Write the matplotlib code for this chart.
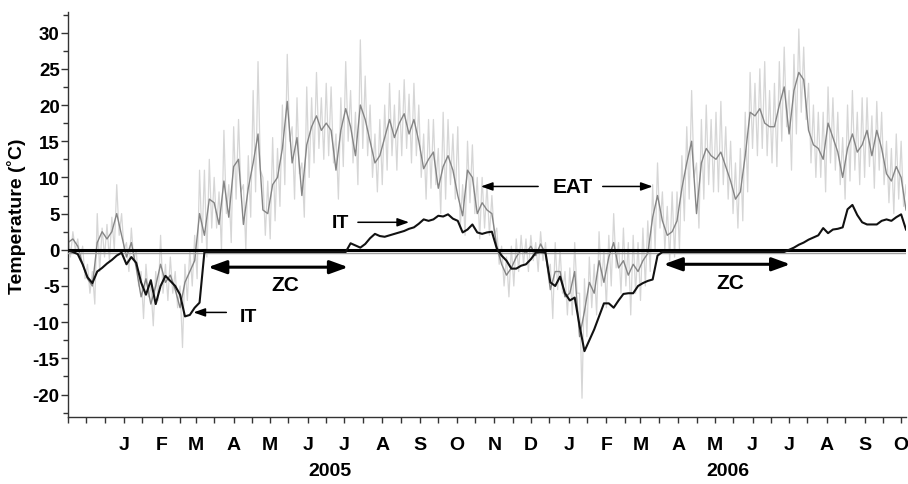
import numpy as np
import matplotlib
matplotlib.use('Agg')
import matplotlib.pyplot as plt
import matplotlib.dates as mdates
from matplotlib.ticker import MultipleLocator, FuncFormatter

# series sampled every 4 days, starting 16 Nov 2004
START = '2004-11-16'
STEP_DAYS = 4

# external air temperature, running mean (grey line)
eat_mean = [
    1.0, 1.5, 0.5, -2.0, -4.0, -5.0, 1.0, 2.5, 1.5, 2.5, 5.0, 2.0, -1.0, 1.0,
    -2.5, -6.5, -4.0, -7.5, -5.0, -2.0, -4.5, -3.5, -5.5, -8.0, -4.5, -3.0, -1.5, 5.0,
    2.0, 7.0, 6.5, 3.5, 9.5, 4.5, 11.5, 12.5, 3.5, 8.5, 12.0, 16.0, 5.5, 5.0, 9.0,
    10.0, 14.0, 20.5, 12.0, 15.5, 7.5, 14.5, 17.0, 18.5, 16.5, 17.5, 16.5, 11.0, 16.5, 19.5,
    17.0, 13.0, 20.0, 18.0, 15.0, 12.0, 13.0, 15.5, 18.0, 15.5, 17.5, 18.8, 16.0, 18.0,
    15.0, 11.2, 12.5, 13.5, 8.5, 11.5, 13.0, 11.0, 7.5, 4.7, 11.0, 10.0, 5.0, 6.5, 5.5,
    5.0, 0.5, -2.0,
    -3.5, -2.5, -1.0, 0.0, -0.5, 0.5, -0.8, 0.8, -0.5, -5.5, -3.0, -3.0, -6.5, -6.0,
    -3.0, -12.0, -8.5, -4.5, -6.0, -1.5, -4.5, -1.0, 1.0, -2.5, -1.5, -3.5, -2.0, -3.0,
    -1.5, -0.5, 4.5, 7.5,
    4.0, 2.0, 2.5, 4.0, 8.5, 12.0, 15.0, 5.0, 12.0, 14.0, 13.0, 12.5, 13.5, 11.5, 9.5,
    7.0, 8.0, 13.0, 19.0, 18.5, 19.5, 17.5, 17.0, 17.0, 20.0, 22.5, 16.0, 22.0, 24.5,
    23.5, 16.5, 14.5, 14.0, 12.5, 17.5, 15.5, 13.5, 10.0, 14.0, 16.0, 13.5, 14.5, 16.5,
    13.0, 16.5, 14.0, 10.5, 9.5, 11.5, 10.0, 5.5,
]

# daily extremes of the air temperature (light grey spikes)
eat_high = [
    2.5, 2.5, 1.5, 0.5, -2.0, -3.0, 5.0, 3.0, 3.5, 4.5, 9.0, 5.0, 1.0, 3.0,
    0.0, -3.0, -2.0, -5.0, -3.0, 2.0, -2.0, -1.0, -3.0, -5.0, -2.0, 0.0, 2.0, 11.0,
    11.0, 12.5, 10.0, 8.0, 16.5, 9.0, 17.0, 18.0, 9.0, 13.0, 22.0, 26.0, 10.0, 9.5, 15.5,
    14.0, 20.0, 27.0, 17.0, 21.0, 12.0, 22.5, 21.0, 24.5, 21.0, 23.0, 22.5, 16.0, 21.0, 26.0,
    22.0, 19.0, 29.0, 24.0, 20.0, 16.0, 18.0, 20.0, 23.0, 20.0, 22.0, 23.5, 21.5, 23.0,
    20.0, 16.0, 18.0, 18.0, 14.0, 19.0, 18.0, 16.0, 17.0, 9.0, 15.0, 14.5, 10.0, 10.0,
    9.0, 7.5, 3.0, 0.5,
    -1.0, 0.5, 1.5, 2.0, 1.5, 2.0, 1.0, 2.5, 1.0, -2.0, 1.0, 0.0, -3.0, -2.5, 1.0,
    -6.0, -4.0, -1.0, -2.0, 2.5, 0.0, 2.0, 5.0, 1.0, 3.0, 1.0, 2.0, 1.0, 3.0, 4.0, 9.0, 12.0,
    8.0, 6.0, 8.0, 8.0, 13.0, 17.0, 22.0, 12.0, 18.0, 20.0, 18.0, 19.0, 20.5, 17.0, 15.0,
    12.0, 14.0, 19.0, 24.5, 23.0, 25.0, 26.0, 22.0, 23.0, 26.0, 28.0, 22.0, 27.0, 30.5,
    28.0, 23.0, 20.0, 19.0, 19.0, 22.5, 21.0, 19.0, 15.5, 20.0, 22.0, 19.0, 21.0, 21.0,
    18.5, 20.5, 19.0, 15.0, 14.0, 16.0, 15.0, 9.0,
]
eat_low = [
    -1.0, 0.0, -1.5, -4.0, -6.0, -7.5, -3.0, -1.0, -1.5, 0.0, 2.0, 0.0, -3.0, -1.5,
    -5.0, -9.5, -6.5, -10.5, -7.0, -6.0, -7.0, -6.0, -8.0, -13.5, -7.0, -5.0, -4.0, 1.0,
    -1.0, 3.0, 3.0, 0.0, 5.0, 1.0, 7.0, 8.0, 0.0, 4.5, 8.0, 11.0, 2.0, 1.5, 4.0,
    6.0, 9.0, 15.0, 7.0, 10.5, 4.5, 10.0, 12.0, 14.0, 12.5, 13.0, 12.0, 7.0, 11.5, 15.0,
    12.0, 9.0, 14.0, 13.0, 10.0, 8.0, 9.0, 11.0, 13.0, 11.0, 13.0, 14.0, 12.0, 13.0,
    10.0, 7.0, 8.5, 9.0, 5.0, 7.0, 9.0, 7.0, 3.0, 2.0, 6.5, 5.0, 1.5, 3.0, 2.0, 2.0,
    -2.0, -5.0,
    -6.5, -5.0, -3.0, -2.0, -3.0, -1.5, -3.0, -1.5, -3.0, -9.5, -5.5, -6.0, -9.0, -9.0,
    -6.0, -20.5, -12.0, -8.0, -9.0, -5.0, -8.0, -5.0, -2.5, -6.0, -5.0, -9.0, -6.0, -7.0,
    -5.0, -3.0, 0.0, 3.0,
    0.0, -1.5, -1.0, 0.0, 4.0, 7.0, 10.0, 3.0, 7.0, 9.0, 8.0, 8.0, 9.0, 7.0, 5.0,
    3.0, 4.0, 8.0, 14.0, 13.0, 14.0, 13.0, 12.0, 11.5, 15.0, 17.0, 11.0, 16.0, 19.0,
    18.0, 12.0, 10.0, 10.0, 8.0, 12.0, 11.0, 9.0, 7.0, 9.5, 11.0, 9.0, 10.0, 11.5,
    8.5, 11.0, 9.0, 6.5, 5.0, 7.0, 6.0, 2.0,
]

# internal temperature (black line)
it_temp = [
    -0.1, -0.3, -0.6, -2.0, -3.8, -4.6, -3.0, -2.5, -1.9, -1.4, -0.8, -0.4, -2.0, -1.0,
    -1.8, -4.5, -6.2, -4.2, -7.5, -5.0, -3.6, -4.3, -5.0, -6.2, -9.2, -9.0, -8.0, -7.3,
    -0.3, -0.3, -0.3, -0.3, -0.3, -0.3, -0.3, -0.3, -0.3, -0.3, -0.3, -0.3, -0.3, -0.3, -0.3,
    -0.3, -0.3, -0.3, -0.3, -0.3, -0.3, -0.3, -0.3, -0.3, -0.3, -0.3, -0.3, -0.3, -0.3, -0.3,
    0.9, 0.6, 0.3, 0.8, 1.6, 2.2, 1.9, 1.8, 2.0, 2.2, 2.4, 2.6, 2.9, 3.1, 3.6, 4.2,
    4.0, 4.2, 4.7, 4.6, 4.9, 4.3, 4.0, 2.4, 2.8, 3.5, 2.4, 2.2, 2.4, 2.5, 0.2, -0.8,
    -1.5, -2.6, -2.6, -2.2, -2.0, -1.3, -0.4, -0.3, -0.4, -4.5, -5.0, -3.7, -6.0, -7.0,
    -6.6, -10.5, -14.0, -12.5, -11.0, -9.2, -7.4, -7.4, -8.0, -7.0, -6.1, -6.0, -6.0, -5.0,
    -4.6, -4.3, -4.1, -0.8,
    -0.3, -0.3, -0.3, -0.3, -0.3, -0.3, -0.3, -0.3, -0.3, -0.3, -0.3, -0.3, -0.3,
    -0.3, -0.3, -0.3, -0.3, -0.3, -0.3, -0.3, -0.3, -0.3, -0.3, -0.3, -0.3, -0.3, 0.0,
    0.3, 0.7, 1.0, 1.4, 1.7, 2.0, 3.0, 2.3, 2.8, 2.9, 3.1, 5.6, 6.2, 4.8, 3.8, 3.5,
    3.5, 3.5, 4.0, 4.2, 4.0, 4.5, 4.9, 2.8,
]

year_labels = ['2005', '2006']
year_dates = ['2005-06-19', '2006-05-12']
FIRST_LABEL = '2005-01-01'   # month letters start with January 2005


def to_num(s):
    return mdates.date2num(np.datetime64(s))


def sample_dates(n, offset=0):
    days = np.arange(n) * STEP_DAYS + offset
    return mdates.date2num(np.datetime64(START) + days.astype('timedelta64[D]'))


def month_letter(v, pos):
    if v < to_num(FIRST_LABEL) - 0.5:
        return ''
    return mdates.num2date(v).strftime('%b')[0]


plt.rcParams['font.family'] = ['Liberation Sans', 'DejaVu Sans']
plt.rcParams['font.weight'] = 'bold'
plt.rcParams['axes.unicode_minus'] = False

fig = plt.figure(figsize=(9.08, 4.85), dpi=100)
ax = fig.add_axes([0.0749, 0.1381, 0.9229, 0.8351])

# light grey zig-zag between the daily highs and lows
n = len(eat_high)
zx = np.empty(2 * n)
zy = np.empty(2 * n)
zx[0::2] = sample_dates(n)
zx[1::2] = sample_dates(n, STEP_DAYS // 2)
zy[0::2] = eat_high
zy[1::2] = eat_low
ax.plot(zx, zy, color='#d6d6d6', lw=0.9, zorder=1)

ax.plot(sample_dates(len(eat_mean)), eat_mean, color='#858585', lw=1.0, zorder=2)

ax.axhline(-0.4, color='#a0a0a0', lw=1.0, zorder=3)
ax.axhline(0, color='black', lw=2.2, zorder=4)

ax.plot(sample_dates(len(it_temp)), it_temp, color='#111111', lw=1.5, zorder=5)

# axes
ax.set_xlim(to_num(START), to_num(START) + 688)
ax.set_ylim(-23.1, 32.85)
for side in ['top', 'right']:
    ax.spines[side].set_visible(False)
for side in ['left', 'bottom']:
    ax.spines[side].set_color('#333333')
    ax.spines[side].set_linewidth(1.0)

ax.yaxis.set_major_locator(MultipleLocator(5))
ax.yaxis.set_minor_locator(MultipleLocator(2.5))
ax.xaxis.set_major_locator(mdates.MonthLocator(bymonthday=1))
ax.xaxis.set_minor_locator(mdates.MonthLocator(bymonthday=16))
ax.xaxis.set_major_formatter(FuncFormatter(month_letter))

ax.tick_params(axis='y', which='major', length=5, width=1, pad=1, labelsize=13.5, color='#333333')
ax.tick_params(axis='y', which='minor', length=3.5, width=1, color='#333333')
ax.tick_params(axis='x', which='both', length=4.5, width=1, pad=9, labelsize=14, color='#333333')

for lab, d in zip(year_labels, year_dates):
    ax.text(to_num(d), -0.133, lab, transform=ax.get_xaxis_transform(),
            ha='center', va='center', fontsize=14, fontweight='bold')

fig.text(17 / 908, 1 - 216 / 485, 'Temperature (˚C)', rotation=90,
         ha='center', va='center', fontsize=14, fontweight='bold')

# annotations
thin = dict(arrowstyle='-|>,head_length=0.7,head_width=0.25', color='black',
            lw=1.1, mutation_scale=10, shrinkA=0, shrinkB=0)
thick = dict(arrowstyle='<|-|>,head_length=0.55,head_width=0.2', color='black',
             lw=2.2, mutation_scale=20, shrinkA=0, shrinkB=0)

ax.text(to_num('2006-01-04'), 8.8, 'EAT', ha='center', va='center', fontsize=15)
ax.annotate('', xy=(to_num('2005-10-21'), 8.75), xytext=(to_num('2005-12-07'), 8.75), arrowprops=thin)
ax.annotate('', xy=(to_num('2006-03-11'), 8.75), xytext=(to_num('2006-01-29'), 8.75), arrowprops=thin)

ax.text(to_num('2005-06-28'), 3.75, 'IT', ha='center', va='center', fontsize=14)
ax.annotate('', xy=(to_num('2005-08-23'), 3.8), xytext=(to_num('2005-07-12'), 3.8), arrowprops=thin)

ax.text(to_num('2005-04-13'), -9.2, 'IT', ha='center', va='center', fontsize=14)
ax.annotate('', xy=(to_num('2005-02-27'), -8.65), xytext=(to_num('2005-03-26'), -8.65), arrowprops=thin)

ax.annotate('', xy=(to_num('2005-03-11'), -2.4), xytext=(to_num('2005-07-04'), -2.4), arrowprops=thick)
ax.text(to_num('2005-05-13'), -4.75, 'ZC', ha='center', va='center', fontsize=15)

ax.annotate('', xy=(to_num('2006-03-20'), -2.0), xytext=(to_num('2006-07-02'), -2.0), arrowprops=thick)
ax.text(to_num('2006-05-14'), -4.5, 'ZC', ha='center', va='center', fontsize=15)

fig.savefig('out.png', dpi=100)
